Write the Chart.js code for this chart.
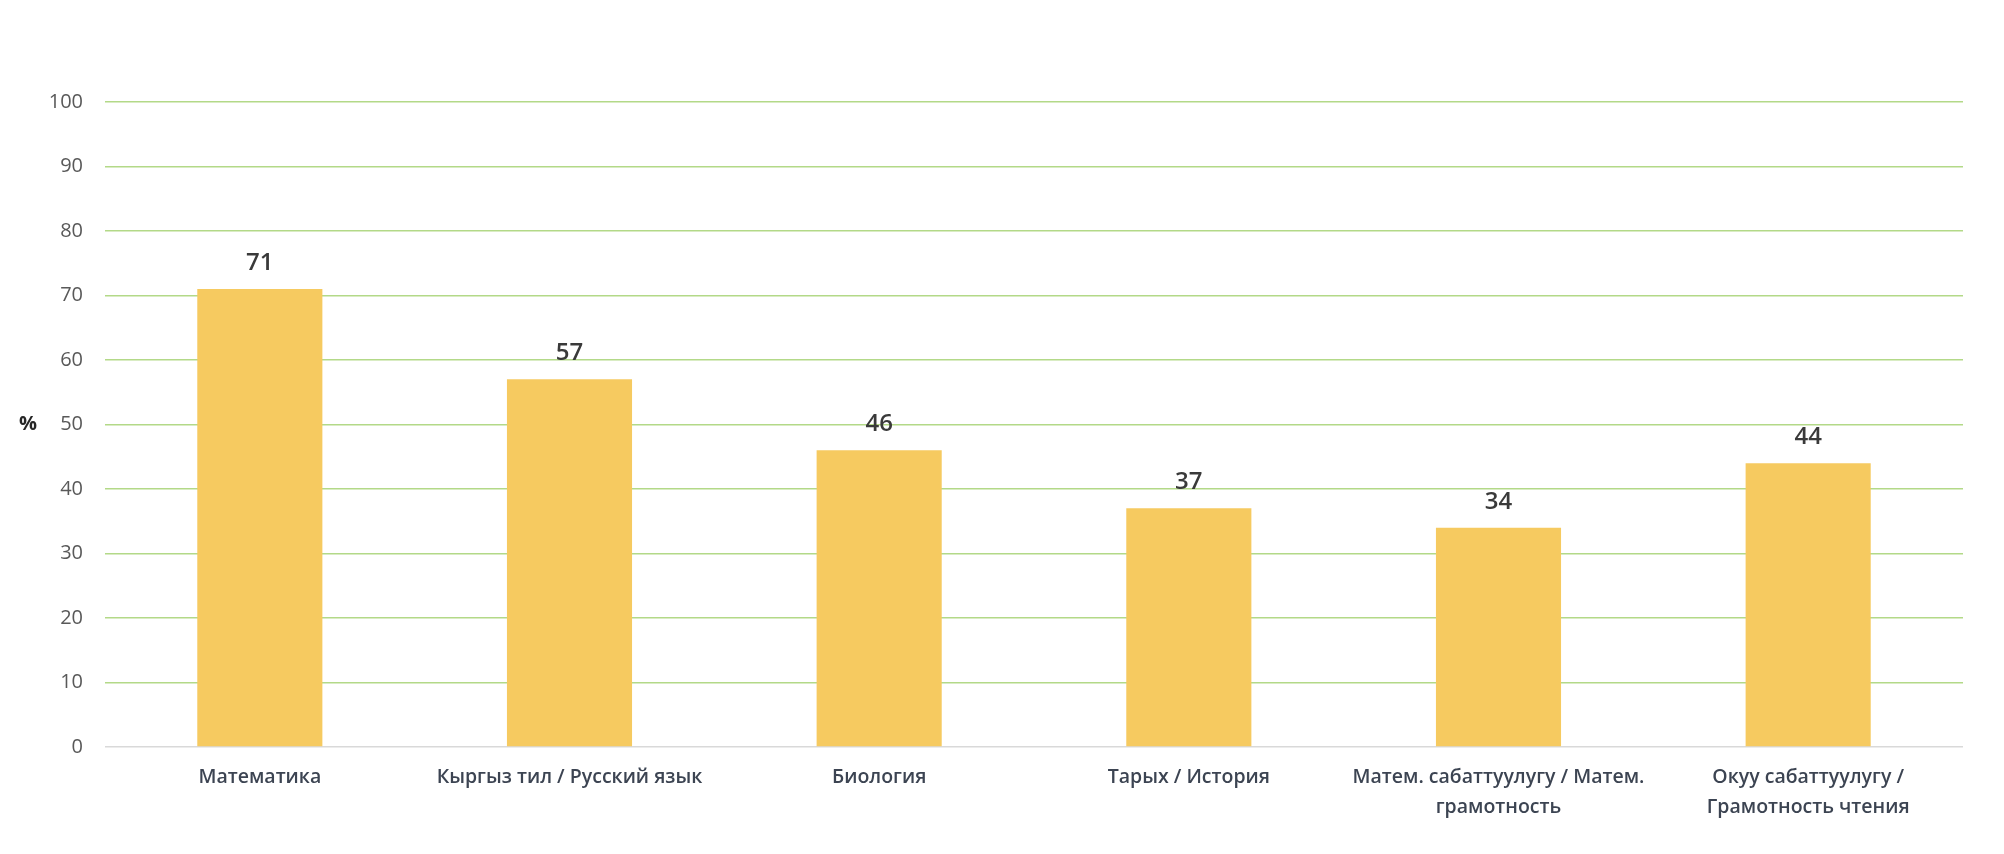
<!DOCTYPE html>
<html>
<head>
<meta charset="utf-8">
<script src="https://cdn.jsdelivr.net/npm/chart.js@4/dist/chart.umd.min.js"></script>
<style>
  html, body { margin: 0; padding: 0; background: #ffffff; }
  #wrap { width: 2004px; height: 854px; position: relative; }
</style>
</head>
<body>
<div id="wrap"><canvas id="c" width="2004" height="854"></canvas></div>
<script>
const categories = [
  ["Математика"],
  ["Кыргыз тил / Русский язык"],
  ["Биология"],
  ["Тарых / История"],
  ["Матем. сабаттуулугу / Матем.", "грамотность"],
  ["Окуу сабаттуулугу /", "Грамотность чтения"]
];
const values = [71, 57, 46, 37, 34, 44];
const yTicks = [0, 10, 20, 30, 40, 50, 60, 70, 80, 90, 100];
const yAxisLabel = "%";

const FONT = "'Open Sans', 'Noto Sans', sans-serif";

const valueLabels = {
  id: 'valueLabels',
  afterDatasetsDraw(chart) {
    const ctx = chart.ctx;
    const meta = chart.getDatasetMeta(0);
    ctx.save();
    ctx.font = "600 24px " + FONT;
    ctx.fillStyle = '#3a3a3a';
    ctx.textAlign = 'center';
    ctx.textBaseline = 'alphabetic';
    meta.data.forEach((bar, i) => {
      ctx.fillText(String(values[i]), bar.x, bar.y - 19);
    });
    ctx.restore();
  }
};

const axisUnit = {
  id: 'axisUnit',
  afterDraw(chart) {
    const ctx = chart.ctx;
    const a = chart.chartArea;
    ctx.save();
    ctx.font = "bold 20px " + FONT;
    ctx.fillStyle = '#262626';
    ctx.textAlign = 'center';
    ctx.textBaseline = 'middle';
    ctx.fillText(yAxisLabel, 28, (a.top + a.bottom) / 2);
    ctx.restore();
  }
};

new Chart(document.getElementById('c'), {
  type: 'bar',
  data: {
    labels: categories,
    datasets: [{
      data: values,
      backgroundColor: '#F6CA60',
      borderWidth: 0,
      barPercentage: 0.404,
      categoryPercentage: 1.0
    }]
  },
  options: {
    responsive: false,
    animation: false,
    devicePixelRatio: 1,
    layout: { padding: { top: 102, right: 41, bottom: 0, left: 0 } },
    plugins: { legend: { display: false }, tooltip: { enabled: false } },
    scales: {
      x: {
        grid: { display: false, drawTicks: false },
        border: { display: false },
        ticks: {
          color: '#3c4452',
          font: { family: FONT, size: 19.5, weight: '600', lineHeight: 1.55 },
          padding: 15,
          maxRotation: 0,
          autoSkip: false
        },
        afterFit(scale) { scale.height = 107; }
      },
      y: {
        min: 0,
        max: 100,
        afterBuildTicks(scale) { scale.ticks = yTicks.map(v => ({ value: v })); },
        grid: {
          drawTicks: false,
          color: ctx => (ctx.tick && ctx.tick.value === 0) ? '#d9d9d9' : '#b3d988',
          lineWidth: 1.5
        },
        border: { display: false },
        ticks: {
          color: '#595959',
          font: { family: FONT, size: 20 },
          padding: 22
        },
        afterFit(scale) { scale.width = 105; }
      }
    }
  },
  plugins: [valueLabels, axisUnit]
});
</script>
</body>
</html>
